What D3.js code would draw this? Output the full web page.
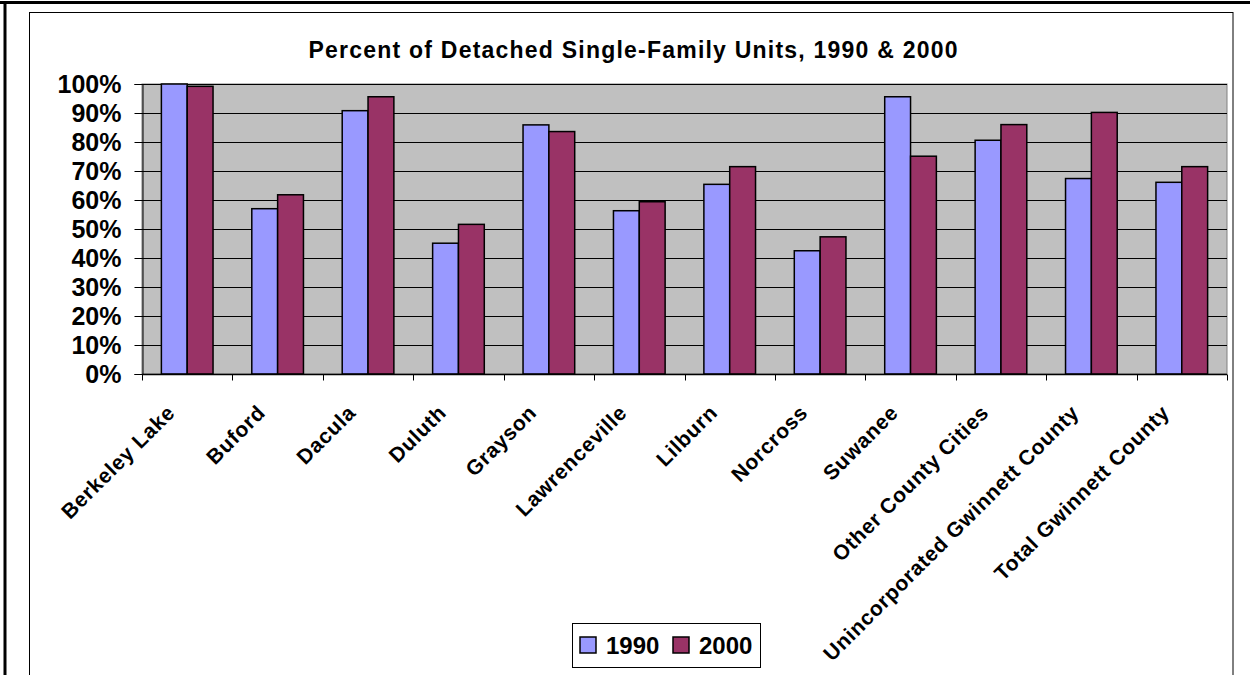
<!DOCTYPE html>
<html>
<head>
<meta charset="utf-8">
<script src="https://cdn.jsdelivr.net/npm/d3@7"></script>
<style>
  html, body { margin: 0; padding: 0; background: #fff; }
  svg { display: block; font-family: "Liberation Sans", Arial, sans-serif; }
</style>
</head>
<body>
<svg id="chart" width="1250" height="675"></svg>
<script>
// Share of housing units that are detached single-family homes
const categories = [
  "Berkeley Lake", "Buford", "Dacula", "Duluth", "Grayson", "Lawrenceville",
  "Lilburn", "Norcross", "Suwanee", "Other County Cities",
  "Unincorporated Gwinnett County", "Total Gwinnett County"
];
const series = ["1990", "2000"];
const values1990 = [1.000, 0.570, 0.908, 0.451, 0.859, 0.563, 0.654, 0.425, 0.956, 0.806, 0.674, 0.661];
const values2000 = [0.992, 0.618, 0.956, 0.516, 0.836, 0.594, 0.715, 0.473, 0.751, 0.860, 0.902, 0.715];
const yTicks = [0, 0.1, 0.2, 0.3, 0.4, 0.5, 0.6, 0.7, 0.8, 0.9, 1.0];
const title = "Percent of Detached Single-Family Units, 1990 & 2000";

const colors = { "1990": "#9999FF", "2000": "#993366" };
const valuesBySeries = { "1990": values1990, "2000": values2000 };

const svg = d3.select("#chart");

// page frame and chart-area border
svg.append("line").attr("x1", 0).attr("x2", 1250).attr("y1", 2.5).attr("y2", 2.5)
  .attr("stroke", "#000").attr("stroke-width", 3);
svg.append("line").attr("x1", 5).attr("x2", 5).attr("y1", 1).attr("y2", 675)
  .attr("stroke", "#000").attr("stroke-width", 3);
svg.append("rect").attr("x", 29.5).attr("y", 12.5).attr("width", 1203.5).attr("height", 700)
  .attr("fill", "#fff").attr("stroke", "#000").attr("stroke-width", 1);

const plot = { left: 142, right: 1227, top: 84, bottom: 374 };

const x = d3.scaleBand().domain(categories).range([plot.left, plot.right]).padding(0);
const xs = d3.scaleBand().domain(series).range([0, x.bandwidth()])
  .paddingInner(0).paddingOuter(0.75);
const y = d3.scaleLinear().domain([0, 1]).range([plot.bottom, plot.top]);

// plot background
svg.append("rect")
  .attr("x", plot.left).attr("y", plot.top)
  .attr("width", plot.right - plot.left).attr("height", plot.bottom - plot.top)
  .attr("fill", "#C0C0C0").attr("stroke", "#808080").attr("stroke-width", 1);

// horizontal gridlines
svg.append("g").selectAll("line").data(yTicks.filter(t => t > 0)).join("line")
  .attr("x1", plot.left).attr("x2", plot.right)
  .attr("y1", d => Math.round(y(d)) + 0.5).attr("y2", d => Math.round(y(d)) + 0.5)
  .attr("stroke", "#000").attr("stroke-width", 1);

// bars
const groups = svg.append("g").selectAll("g").data(categories).join("g")
  .attr("transform", d => `translate(${x(d)},0)`);
groups.selectAll("rect")
  .data((c, i) => series.map(s => ({ s, v: valuesBySeries[s][i] })))
  .join("rect")
  .attr("x", d => xs(d.s))
  .attr("y", d => y(d.v))
  .attr("width", xs.bandwidth())
  .attr("height", d => y(0) - y(d.v))
  .attr("fill", d => colors[d.s])
  .attr("stroke", "#000").attr("stroke-width", 1.5);

// y axis
const yAxis = svg.append("g")
  .attr("transform", `translate(${plot.left + 0.5},0)`)
  .call(d3.axisLeft(y).tickValues(yTicks).tickFormat(d3.format(".0%"))
    .tickSize(8).tickPadding(13));
yAxis.select(".domain").attr("stroke", "#000");
yAxis.selectAll(".tick line").attr("stroke", "#000");
yAxis.selectAll("text")
  .attr("font-family", "'Liberation Sans', Arial, sans-serif")
  .attr("font-size", 25).attr("font-weight", "bold").attr("fill", "#000");

// x axis: ticks at category boundaries
const xAxis = svg.append("g").attr("transform", `translate(0,${plot.bottom + 0.5})`);
xAxis.append("line").attr("x1", plot.left).attr("x2", plot.right)
  .attr("stroke", "#000").attr("stroke-width", 1.5);
const boundaries = categories.map(c => x(c)).concat([plot.right]);
xAxis.selectAll(".bt").data(boundaries).join("line").attr("class", "bt")
  .attr("x1", d => Math.round(d) + 0.5).attr("x2", d => Math.round(d) + 0.5)
  .attr("y1", 0).attr("y2", 6).attr("stroke", "#000");

// rotated category labels
svg.append("g").selectAll("text").data(categories).join("text")
  .attr("transform", d => `translate(${x(d) + x.bandwidth() / 2 - 11},414) rotate(-45)`)
  .attr("text-anchor", "end")
  .attr("font-size", 21).attr("font-weight", "bold").attr("letter-spacing", 0.7)
  .attr("fill", "#000")
  .text(d => d);

// title
svg.append("text")
  .attr("x", 633).attr("y", 58)
  .attr("text-anchor", "middle")
  .attr("font-size", 23).attr("font-weight", "bold").attr("fill", "#000")
  .attr("textLength", 649).attr("lengthAdjust", "spacing")
  .text(title);

// legend
const legend = svg.append("g");
legend.append("rect").attr("x", 572.5).attr("y", 623.5).attr("width", 188).attr("height", 44)
  .attr("fill", "#fff").attr("stroke", "#000").attr("stroke-width", 1);
const legendX = { "1990": 580, "2000": 673 };
const items = legend.selectAll("g").data(series).join("g")
  .attr("transform", d => `translate(${legendX[d]},637)`);
items.append("rect").attr("width", 16).attr("height", 16)
  .attr("fill", d => colors[d]).attr("stroke", "#000").attr("stroke-width", 1.5);
items.append("text").attr("x", 26).attr("y", 17)
  .attr("font-size", 24).attr("font-weight", "bold").attr("fill", "#000")
  .text(d => d);
</script>
</body>
</html>
